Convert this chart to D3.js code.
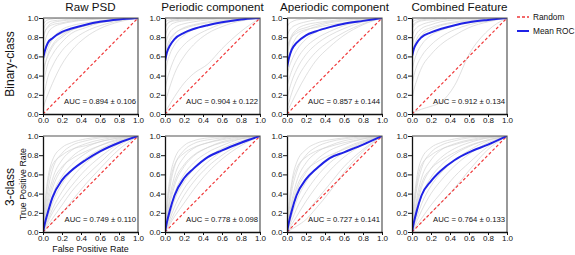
<!DOCTYPE html>
<html>
<head>
<meta charset="utf-8">
<script src="https://cdn.jsdelivr.net/npm/d3@7"></script>
<style>
  body { margin: 0; background: #fff; }
  svg { font-family: "Liberation Sans", Arial, sans-serif; }
</style>
</head>
<body>
<svg id="chart" width="575" height="255"></svg>
<script>
const panelTitles = ["Raw PSD", "Periodic component", "Aperiodic component", "Combined Feature"];
const rowLabels = ["Binary-class", "3-class"];
const tickValues = [0, 0.2, 0.4, 0.6, 0.8, 1.0];

// false positive rate grid shared by every curve
const fprGrid = [0, 0.02, 0.05, 0.1, 0.2, 0.3, 0.45, 0.6, 0.8, 1];

const aucBinary = ["0.894 ± 0.106", "0.904 ± 0.122", "0.857 ± 0.144", "0.912 ± 0.134"];
const aucThree = ["0.749 ± 0.110", "0.778 ± 0.098", "0.727 ± 0.141", "0.764 ± 0.133"];

// mean ROC (TPR at fprGrid)
const meanBinary = [
  [0.58, 0.66, 0.74, 0.79, 0.855, 0.89, 0.93, 0.96, 0.985, 1],
  [0.55, 0.64, 0.71, 0.78, 0.845, 0.885, 0.925, 0.955, 0.985, 1],
  [0.48, 0.58, 0.67, 0.74, 0.82, 0.86, 0.905, 0.94, 0.97, 1],
  [0.6, 0.68, 0.74, 0.8, 0.85, 0.885, 0.925, 0.955, 0.98, 1]
];
const meanThree = [
  [0, 0.09, 0.2, 0.36, 0.54, 0.64, 0.75, 0.84, 0.93, 1],
  [0, 0.1, 0.22, 0.38, 0.56, 0.66, 0.78, 0.85, 0.93, 1],
  [0, 0.1, 0.22, 0.38, 0.55, 0.65, 0.77, 0.83, 0.91, 1],
  [0, 0.1, 0.22, 0.38, 0.53, 0.635, 0.75, 0.83, 0.91, 1]
];

// individual fold ROC curves (TPR at fprGrid)
const grayBinRaw = [
  [0.92, 0.96, 0.98, 0.99, 1, 1, 1, 1, 1, 1],
  [0.85, 0.92, 0.95, 0.97, 0.98, 0.99, 1, 1, 1, 1],
  [0.75, 0.85, 0.91, 0.95, 0.97, 0.98, 0.99, 1, 1, 1],
  [0.62, 0.75, 0.84, 0.9, 0.94, 0.96, 0.98, 0.99, 1, 1],
  [0.55, 0.6, 0.68, 0.78, 0.88, 0.92, 0.95, 0.97, 0.99, 1],
  [0.45, 0.52, 0.6, 0.7, 0.8, 0.87, 0.92, 0.96, 0.99, 1],
  [0.3, 0.4, 0.52, 0.62, 0.75, 0.84, 0.9, 0.95, 0.98, 1],
  [0.15, 0.25, 0.38, 0.5, 0.66, 0.76, 0.86, 0.92, 0.97, 1],
  [0.05, 0.12, 0.2, 0.32, 0.52, 0.66, 0.8, 0.89, 0.96, 1],
  [0.6, 0.66, 0.72, 0.78, 0.84, 0.88, 0.92, 0.95, 0.98, 1],
  [0.8, 0.86, 0.9, 0.93, 0.95, 0.97, 0.98, 0.99, 1, 1],
  [0.35, 0.5, 0.62, 0.72, 0.82, 0.88, 0.93, 0.97, 0.99, 1]
];
const grayBinPer = [
  [0.95, 0.97, 0.98, 0.99, 1, 1, 1, 1, 1, 1],
  [0.88, 0.93, 0.96, 0.98, 0.99, 1, 1, 1, 1, 1],
  [0.8, 0.87, 0.92, 0.95, 0.97, 0.98, 0.99, 1, 1, 1],
  [0.7, 0.78, 0.85, 0.9, 0.94, 0.96, 0.98, 0.99, 1, 1],
  [0.55, 0.65, 0.75, 0.83, 0.9, 0.93, 0.96, 0.98, 0.99, 1],
  [0.4, 0.52, 0.62, 0.72, 0.82, 0.88, 0.93, 0.96, 0.99, 1],
  [0.25, 0.35, 0.45, 0.58, 0.72, 0.8, 0.88, 0.94, 0.98, 1],
  [0.1, 0.18, 0.28, 0.42, 0.6, 0.72, 0.84, 0.91, 0.97, 1],
  [0.02, 0.05, 0.1, 0.18, 0.32, 0.42, 0.52, 0.68, 0.86, 1],
  [0.6, 0.7, 0.78, 0.84, 0.89, 0.92, 0.95, 0.97, 0.99, 1],
  [0.9, 0.94, 0.96, 0.97, 0.98, 0.99, 1, 1, 1, 1]
];
const grayBinApe = [
  [0.9, 0.94, 0.96, 0.98, 0.99, 1, 1, 1, 1, 1],
  [0.8, 0.86, 0.9, 0.93, 0.96, 0.98, 0.99, 1, 1, 1],
  [0.65, 0.74, 0.82, 0.88, 0.93, 0.95, 0.97, 0.99, 1, 1],
  [0.5, 0.6, 0.7, 0.8, 0.87, 0.91, 0.95, 0.97, 0.99, 1],
  [0.4, 0.48, 0.56, 0.66, 0.78, 0.85, 0.9, 0.94, 0.98, 1],
  [0.28, 0.36, 0.45, 0.56, 0.7, 0.78, 0.86, 0.92, 0.97, 1],
  [0.15, 0.24, 0.34, 0.46, 0.62, 0.72, 0.82, 0.89, 0.96, 1],
  [0.05, 0.12, 0.22, 0.35, 0.52, 0.64, 0.76, 0.85, 0.94, 1],
  [0.02, 0.06, 0.12, 0.22, 0.4, 0.55, 0.7, 0.82, 0.93, 1],
  [0.7, 0.75, 0.8, 0.84, 0.88, 0.9, 0.93, 0.95, 0.98, 1],
  [0.55, 0.7, 0.8, 0.86, 0.9, 0.93, 0.96, 0.98, 0.99, 1]
];
const grayBinCom = [
  [0.95, 0.97, 0.98, 0.99, 1, 1, 1, 1, 1, 1],
  [0.88, 0.92, 0.95, 0.97, 0.98, 0.99, 1, 1, 1, 1],
  [0.8, 0.86, 0.9, 0.93, 0.96, 0.98, 0.99, 1, 1, 1],
  [0.7, 0.78, 0.84, 0.89, 0.93, 0.96, 0.98, 0.99, 1, 1],
  [0.58, 0.66, 0.74, 0.82, 0.88, 0.92, 0.95, 0.97, 0.99, 1],
  [0.45, 0.54, 0.63, 0.72, 0.82, 0.87, 0.92, 0.95, 0.98, 1],
  [0.3, 0.4, 0.5, 0.6, 0.72, 0.8, 0.88, 0.93, 0.97, 1],
  [0.15, 0.25, 0.35, 0.48, 0.62, 0.72, 0.82, 0.9, 0.96, 1],
  [0.01, 0.02, 0.03, 0.05, 0.08, 0.12, 0.3, 0.62, 0.87, 1],
  [0.62, 0.7, 0.78, 0.85, 0.9, 0.93, 0.96, 0.98, 0.99, 1],
  [0.9, 0.94, 0.96, 0.98, 0.99, 1, 1, 1, 1, 1]
];
const grayThreeRaw = [
  [0, 0.3, 0.55, 0.75, 0.88, 0.93, 0.97, 0.99, 1, 1],
  [0, 0.2, 0.42, 0.65, 0.82, 0.9, 0.95, 0.98, 0.99, 1],
  [0, 0.15, 0.35, 0.55, 0.75, 0.85, 0.92, 0.96, 0.99, 1],
  [0, 0.1, 0.25, 0.45, 0.66, 0.78, 0.88, 0.94, 0.98, 1],
  [0, 0.08, 0.2, 0.38, 0.58, 0.7, 0.82, 0.9, 0.97, 1],
  [0, 0.06, 0.15, 0.3, 0.5, 0.63, 0.77, 0.86, 0.95, 1],
  [0, 0.05, 0.12, 0.24, 0.42, 0.56, 0.72, 0.83, 0.94, 1],
  [0, 0.04, 0.1, 0.2, 0.35, 0.48, 0.65, 0.78, 0.92, 1],
  [0, 0.03, 0.07, 0.14, 0.28, 0.42, 0.58, 0.72, 0.9, 1],
  [0, 0.02, 0.05, 0.1, 0.2, 0.32, 0.5, 0.66, 0.86, 1],
  [0, 0.25, 0.5, 0.7, 0.8, 0.86, 0.9, 0.94, 0.98, 1],
  [0, 0.12, 0.3, 0.5, 0.68, 0.76, 0.84, 0.9, 0.96, 1]
];
const grayThreePer = [
  [0, 0.3, 0.55, 0.76, 0.9, 0.95, 0.98, 0.99, 1, 1],
  [0, 0.22, 0.45, 0.68, 0.85, 0.92, 0.96, 0.98, 1, 1],
  [0, 0.16, 0.36, 0.58, 0.78, 0.87, 0.93, 0.97, 0.99, 1],
  [0, 0.12, 0.28, 0.48, 0.68, 0.79, 0.88, 0.94, 0.98, 1],
  [0, 0.09, 0.22, 0.4, 0.6, 0.72, 0.83, 0.9, 0.97, 1],
  [0, 0.07, 0.17, 0.33, 0.52, 0.65, 0.78, 0.87, 0.95, 1],
  [0, 0.05, 0.13, 0.26, 0.45, 0.58, 0.73, 0.84, 0.94, 1],
  [0, 0.04, 0.1, 0.2, 0.38, 0.52, 0.68, 0.8, 0.92, 1],
  [0, 0.03, 0.08, 0.16, 0.3, 0.44, 0.62, 0.76, 0.9, 1],
  [0, 0.26, 0.5, 0.7, 0.82, 0.88, 0.93, 0.96, 0.99, 1],
  [0, 0.14, 0.32, 0.52, 0.7, 0.8, 0.88, 0.93, 0.97, 1]
];
const grayThreeApe = [
  [0, 0.28, 0.52, 0.72, 0.86, 0.92, 0.96, 0.98, 1, 1],
  [0, 0.2, 0.42, 0.62, 0.8, 0.88, 0.94, 0.97, 0.99, 1],
  [0, 0.14, 0.32, 0.52, 0.72, 0.82, 0.9, 0.95, 0.98, 1],
  [0, 0.1, 0.24, 0.42, 0.62, 0.74, 0.85, 0.91, 0.97, 1],
  [0, 0.07, 0.17, 0.32, 0.52, 0.65, 0.78, 0.87, 0.95, 1],
  [0, 0.05, 0.12, 0.24, 0.42, 0.56, 0.72, 0.83, 0.93, 1],
  [0, 0.03, 0.08, 0.16, 0.32, 0.46, 0.64, 0.78, 0.91, 1],
  [0, 0.02, 0.05, 0.1, 0.2, 0.32, 0.5, 0.68, 0.86, 1],
  [0, 0.01, 0.03, 0.06, 0.13, 0.24, 0.42, 0.62, 0.84, 1],
  [0, 0.24, 0.48, 0.66, 0.78, 0.84, 0.89, 0.93, 0.97, 1],
  [0, 0.12, 0.28, 0.46, 0.64, 0.72, 0.8, 0.86, 0.94, 1]
];
const grayThreeCom = [
  [0, 0.3, 0.56, 0.76, 0.88, 0.93, 0.97, 0.99, 1, 1],
  [0, 0.22, 0.45, 0.66, 0.83, 0.9, 0.95, 0.98, 0.99, 1],
  [0, 0.16, 0.35, 0.56, 0.75, 0.85, 0.92, 0.96, 0.99, 1],
  [0, 0.11, 0.26, 0.46, 0.66, 0.77, 0.87, 0.93, 0.98, 1],
  [0, 0.08, 0.2, 0.37, 0.57, 0.69, 0.81, 0.89, 0.96, 1],
  [0, 0.06, 0.15, 0.29, 0.48, 0.61, 0.75, 0.85, 0.95, 1],
  [0, 0.04, 0.11, 0.22, 0.4, 0.53, 0.69, 0.81, 0.93, 1],
  [0, 0.03, 0.07, 0.14, 0.28, 0.4, 0.58, 0.72, 0.89, 1],
  [0, 0.02, 0.05, 0.1, 0.2, 0.3, 0.46, 0.64, 0.86, 1],
  [0, 0.26, 0.5, 0.7, 0.8, 0.86, 0.91, 0.95, 0.98, 1],
  [0, 0.13, 0.3, 0.5, 0.66, 0.74, 0.83, 0.9, 0.96, 1]
];

const grayBinary = [grayBinRaw, grayBinPer, grayBinApe, grayBinCom];
const grayThree = [grayThreeRaw, grayThreePer, grayThreeApe, grayThreeCom];

// layout
const panelLeft = [43, 165, 287, 412];
const rowTop = [18, 136];
const pw = 95, ph = 96;
const blue = "#1f22e6", red = "#f0393a", gray = "#d2d2d2";

const svg = d3.select("#chart");
const fmt = d3.format(".1f");

// ROC path: vertical step up from (0,0) and then a smooth curve through the grid
function rocPath(x, y, tpr) {
  const pts = fprGrid.map((f, i) => [f, tpr[i]]);
  const line = d3.line().x(d => x(d[0])).y(d => y(d[1])).curve(d3.curveMonotoneX);
  return `M${x(0)},${y(0)}L` + line(pts).slice(1);
}

rowTop.forEach((top, r) => {
  panelLeft.forEach((left, c) => {
    const g = svg.append("g").attr("transform", `translate(${left},${top})`);
    const x = d3.scaleLinear().domain([0, 1]).range([0, pw]);
    const y = d3.scaleLinear().domain([0, 1]).range([ph, 0]);
    const clipId = `clip-${r}-${c}`;
    g.append("clipPath").attr("id", clipId)
      .append("rect").attr("width", pw).attr("height", ph);

    const plot = g.append("g").attr("clip-path", `url(#${clipId})`);
    const grays = r === 0 ? grayBinary[c] : grayThree[c];
    plot.selectAll("path.fold").data(grays).enter().append("path")
      .attr("class", "fold")
      .attr("d", d => rocPath(x, y, d))
      .attr("fill", "none").attr("stroke", gray).attr("stroke-width", 0.7);

    plot.append("line")
      .attr("x1", x(0)).attr("y1", y(0)).attr("x2", x(1)).attr("y2", y(1))
      .attr("stroke", red).attr("stroke-width", 1.2).attr("stroke-dasharray", "3,2.2");

    const mean = r === 0 ? meanBinary[c] : meanThree[c];
    plot.append("path")
      .attr("d", rocPath(x, y, mean))
      .attr("fill", "none").attr("stroke", blue).attr("stroke-width", 2);

    // frame
    g.append("path")
      .attr("d", `M0,0H${pw}V${ph}`)
      .attr("fill", "none").attr("stroke", "#555").attr("stroke-width", 1.2);

    const xAxis = g.append("g").attr("transform", `translate(0,${ph})`)
      .call(d3.axisBottom(x).tickValues(tickValues).tickFormat(fmt).tickSize(3).tickSizeOuter(0));
    const yAxis = g.append("g")
      .call(d3.axisLeft(y).tickValues(tickValues).tickFormat(fmt).tickSize(4).tickSizeOuter(0));
    [xAxis, yAxis].forEach(a => {
      a.select(".domain").attr("stroke", "#111").attr("stroke-width", 1.3);
      a.selectAll(".tick line").attr("stroke", "#111").attr("stroke-width", 1);
      a.selectAll(".tick text").attr("font-size", 8).attr("fill", "#111")
        .attr("font-family", "Liberation Sans, Arial, sans-serif");
    });
    xAxis.selectAll(".tick text").attr("y", 3.5).attr("dy", "0.71em");
    yAxis.selectAll(".tick text").attr("x", -4.5);

    g.append("text")
      .attr("x", pw - 2).attr("y", ph - 10)
      .attr("text-anchor", "end").attr("font-size", 7.7).attr("fill", "#111")
      .text(`AUC = ${r === 0 ? aucBinary[c] : aucThree[c]}`);

    if (r === 0) {
      g.append("text")
        .attr("x", pw / 2).attr("y", -7)
        .attr("text-anchor", "middle").attr("font-size", 11.6).attr("fill", "#111")
        .text(panelTitles[c]);
    }
  });
});

// row labels
svg.append("text")
  .attr("transform", `translate(14,${rowTop[0] + ph / 2 - 2}) rotate(-90)`)
  .attr("text-anchor", "middle").attr("font-size", 12).attr("fill", "#111")
  .text(rowLabels[0]);
svg.append("text")
  .attr("transform", `translate(14,${rowTop[1] + ph / 2 + 3}) rotate(-90)`)
  .attr("text-anchor", "middle").attr("font-size", 12).attr("fill", "#111")
  .text(rowLabels[1]);
svg.append("text")
  .attr("transform", `translate(26,${rowTop[1] + ph / 2}) rotate(-90)`)
  .attr("text-anchor", "middle").attr("font-size", 8.8).attr("fill", "#111")
  .text("True Positive Rate");
svg.append("text")
  .attr("x", panelLeft[0] + pw / 2).attr("y", 252)
  .attr("text-anchor", "middle").attr("font-size", 8.9).attr("fill", "#111")
  .text("False Positive Rate");

// legend
const legend = svg.append("g").attr("transform", "translate(517,0)");
legend.append("line").attr("x1", 0).attr("x2", 12).attr("y1", 17).attr("y2", 17)
  .attr("stroke", red).attr("stroke-width", 1.5).attr("stroke-dasharray", "3,2");
legend.append("text").attr("x", 16).attr("y", 20).attr("font-size", 8.3).attr("fill", "#111").text("Random");
legend.append("line").attr("x1", 0).attr("x2", 12).attr("y1", 31).attr("y2", 31)
  .attr("stroke", blue).attr("stroke-width", 2);
legend.append("text").attr("x", 16).attr("y", 34).attr("font-size", 8.3).attr("fill", "#111").text("Mean ROC");
</script>
</body>
</html>
